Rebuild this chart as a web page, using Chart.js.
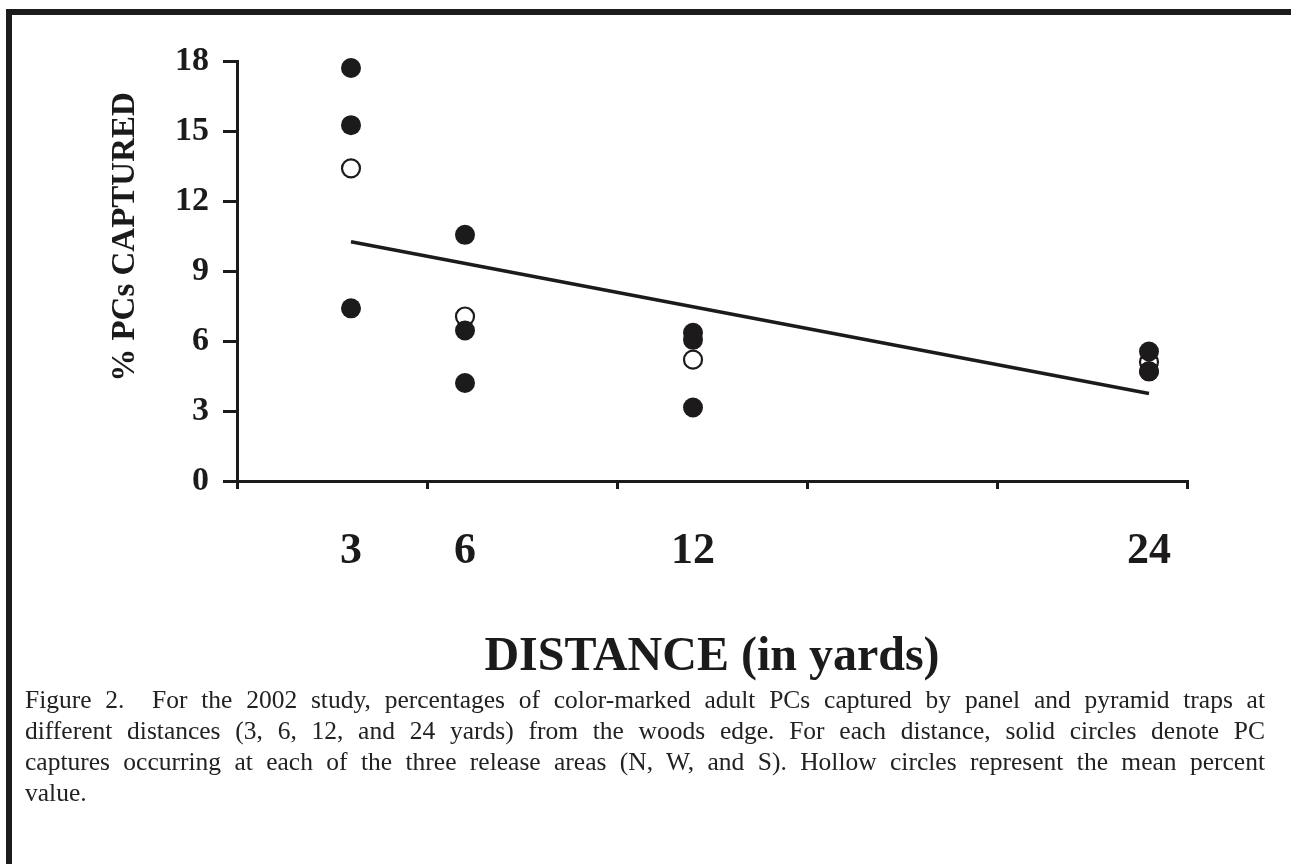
<!DOCTYPE html>
<html>
<head>
<meta charset="utf-8">
<script src="https://cdn.jsdelivr.net/npm/chart.js@4.4.1/dist/chart.umd.min.js"></script>
<style>
  html, body { margin: 0; padding: 0; background: #fff; }
  body { width: 1291px; height: 864px; position: relative; overflow: hidden; }
  #frame {
    position: absolute; left: 6px; top: 9px; width: 1400px; height: 1000px;
    border-left: 6px solid #1d1b1b; border-top: 6px solid #1d1b1b;
  }
  #wrap { position: absolute; left: 0; top: 0; width: 1291px; height: 700px; }
  #caption {
    position: absolute; left: 25px; top: 684px; width: 1240px;
    font-family: "Liberation Serif", "Times New Roman", serif;
    font-size: 25.5px; line-height: 31px; color: #222;
  }
  #caption .j { text-align: justify; text-align-last: justify; white-space: nowrap; }
</style>
</head>
<body>
<div id="frame"></div>
<div id="wrap"><canvas id="scatter"></canvas></div>
<div id="caption">
  <div class="j">Figure 2.&nbsp; For the 2002 study, percentages of color-marked adult PCs captured by panel and pyramid traps at</div>
  <div class="j">different distances (3, 6, 12, and 24 yards) from the woods edge. For each distance, solid circles denote PC</div>
  <div class="j">captures occurring at each of the three release areas (N, W, and S). Hollow circles represent the mean percent</div>
  <div>value.</div>
</div>
<script>
// --- Données ---
const distances = [3, 6, 12, 24];          // étiquettes de l'axe X (yards)
const xTickMarks = [0, 5, 10, 15, 20, 25];  // petites graduations sans texte

// captures par zone de lâcher (N, W, S) -> cercles pleins
const releaseX = [3, 3, 3, 6, 6, 6, 12, 12, 12, 24, 24, 24];
const releaseY = [17.7, 15.25, 7.4, 10.55, 6.45, 4.2, 6.35, 6.05, 3.15, 5.55, 4.7, 4.7];

// moyennes -> cercles creux
const meanX = [3, 6, 12, 24];
const meanY = [13.4, 7.05, 5.2, 5.1];

// droite de régression
const fitX = [3, 24];
const fitY = [10.25, 3.75];

const yTitle = '% PCs CAPTURED';
const xTitle = 'DISTANCE (in yards)';
const ink = '#1c1a1a';
const serif = '"Liberation Serif", "Times New Roman", serif';

const toPoints = (xs, ys) => xs.map((x, i) => ({ x: x, y: ys[i] }));

// Titre vertical dessiné à la main (décalé vers le haut comme sur l'original)
const yTitlePlugin = {
    id: 'yTitle',
    afterDraw(chart) {
        const c = chart.ctx;
        c.save();
        c.translate(125, 237);
        c.rotate(-Math.PI / 2);
        c.font = 'bold 33px ' + serif;
        c.fillStyle = ink;
        c.textAlign = 'center';
        c.textBaseline = 'middle';
        c.fillText(yTitle, 0, 0);
        c.restore();
    }
};

const ctx = document.getElementById('scatter').getContext('2d');
new Chart(ctx, {
    type: 'scatter',
    data: {
        datasets: [
            {
                type: 'line',
                data: toPoints(fitX, fitY),
                borderColor: ink,
                borderWidth: 3.5,
                pointRadius: 0,
                fill: false
            },
            {
                data: toPoints(releaseX, releaseY),
                backgroundColor: ink,
                borderColor: ink,
                borderWidth: 0,
                pointRadius: 10
            },
            {
                data: toPoints(meanX, meanY),
                backgroundColor: '#fff',
                borderColor: ink,
                borderWidth: 2.2,
                pointRadius: 9
            }
        ]
    },
    options: {
        responsive: true,
        maintainAspectRatio: false,
        animation: false,
        clip: false,
        layout: { padding: { left: 105, right: 104, top: 61, bottom: 9 } },
        plugins: { legend: { display: false }, tooltip: { enabled: false } },
        scales: {
            x: {
                type: 'linear', position: 'bottom', weight: 0,
                min: 0, max: 25,
                afterBuildTicks: s => { s.ticks = xTickMarks.map(v => ({ value: v })); },
                afterFit: s => { s.height = 10; },
                border: { color: ink, width: 3 },
                grid: { drawOnChartArea: false, drawTicks: true, tickLength: 8, lineWidth: 3, color: ink },
                ticks: { display: false }
            },
            x2: {
                type: 'linear', position: 'bottom', weight: 1,
                min: 0, max: 25,
                afterBuildTicks: s => { s.ticks = distances.map(v => ({ value: v })); },
                afterFit: s => { s.height = 200; },
                border: { display: false },
                grid: { display: false },
                ticks: {
                    autoSkip: false, maxRotation: 0, padding: 26, color: ink,
                    font: { family: serif, size: 44, weight: 'bold' }
                },
                title: {
                    display: true, text: xTitle, color: ink,
                    font: { family: serif, size: 48, weight: 'bold' },
                    padding: { top: 0, bottom: 5 }
                }
            },
            y: {
                min: 0, max: 18,
                afterFit: s => { s.width = 132; },
                border: { color: ink, width: 3 },
                grid: { drawOnChartArea: false, drawTicks: true, tickLength: 14, lineWidth: 3, color: ink },
                ticks: {
                    stepSize: 3, padding: 14, color: ink,
                    font: { family: serif, size: 34, weight: 'bold' }
                }
            }
        }
    },
    plugins: [yTitlePlugin]
});
</script>
</body>
</html>
